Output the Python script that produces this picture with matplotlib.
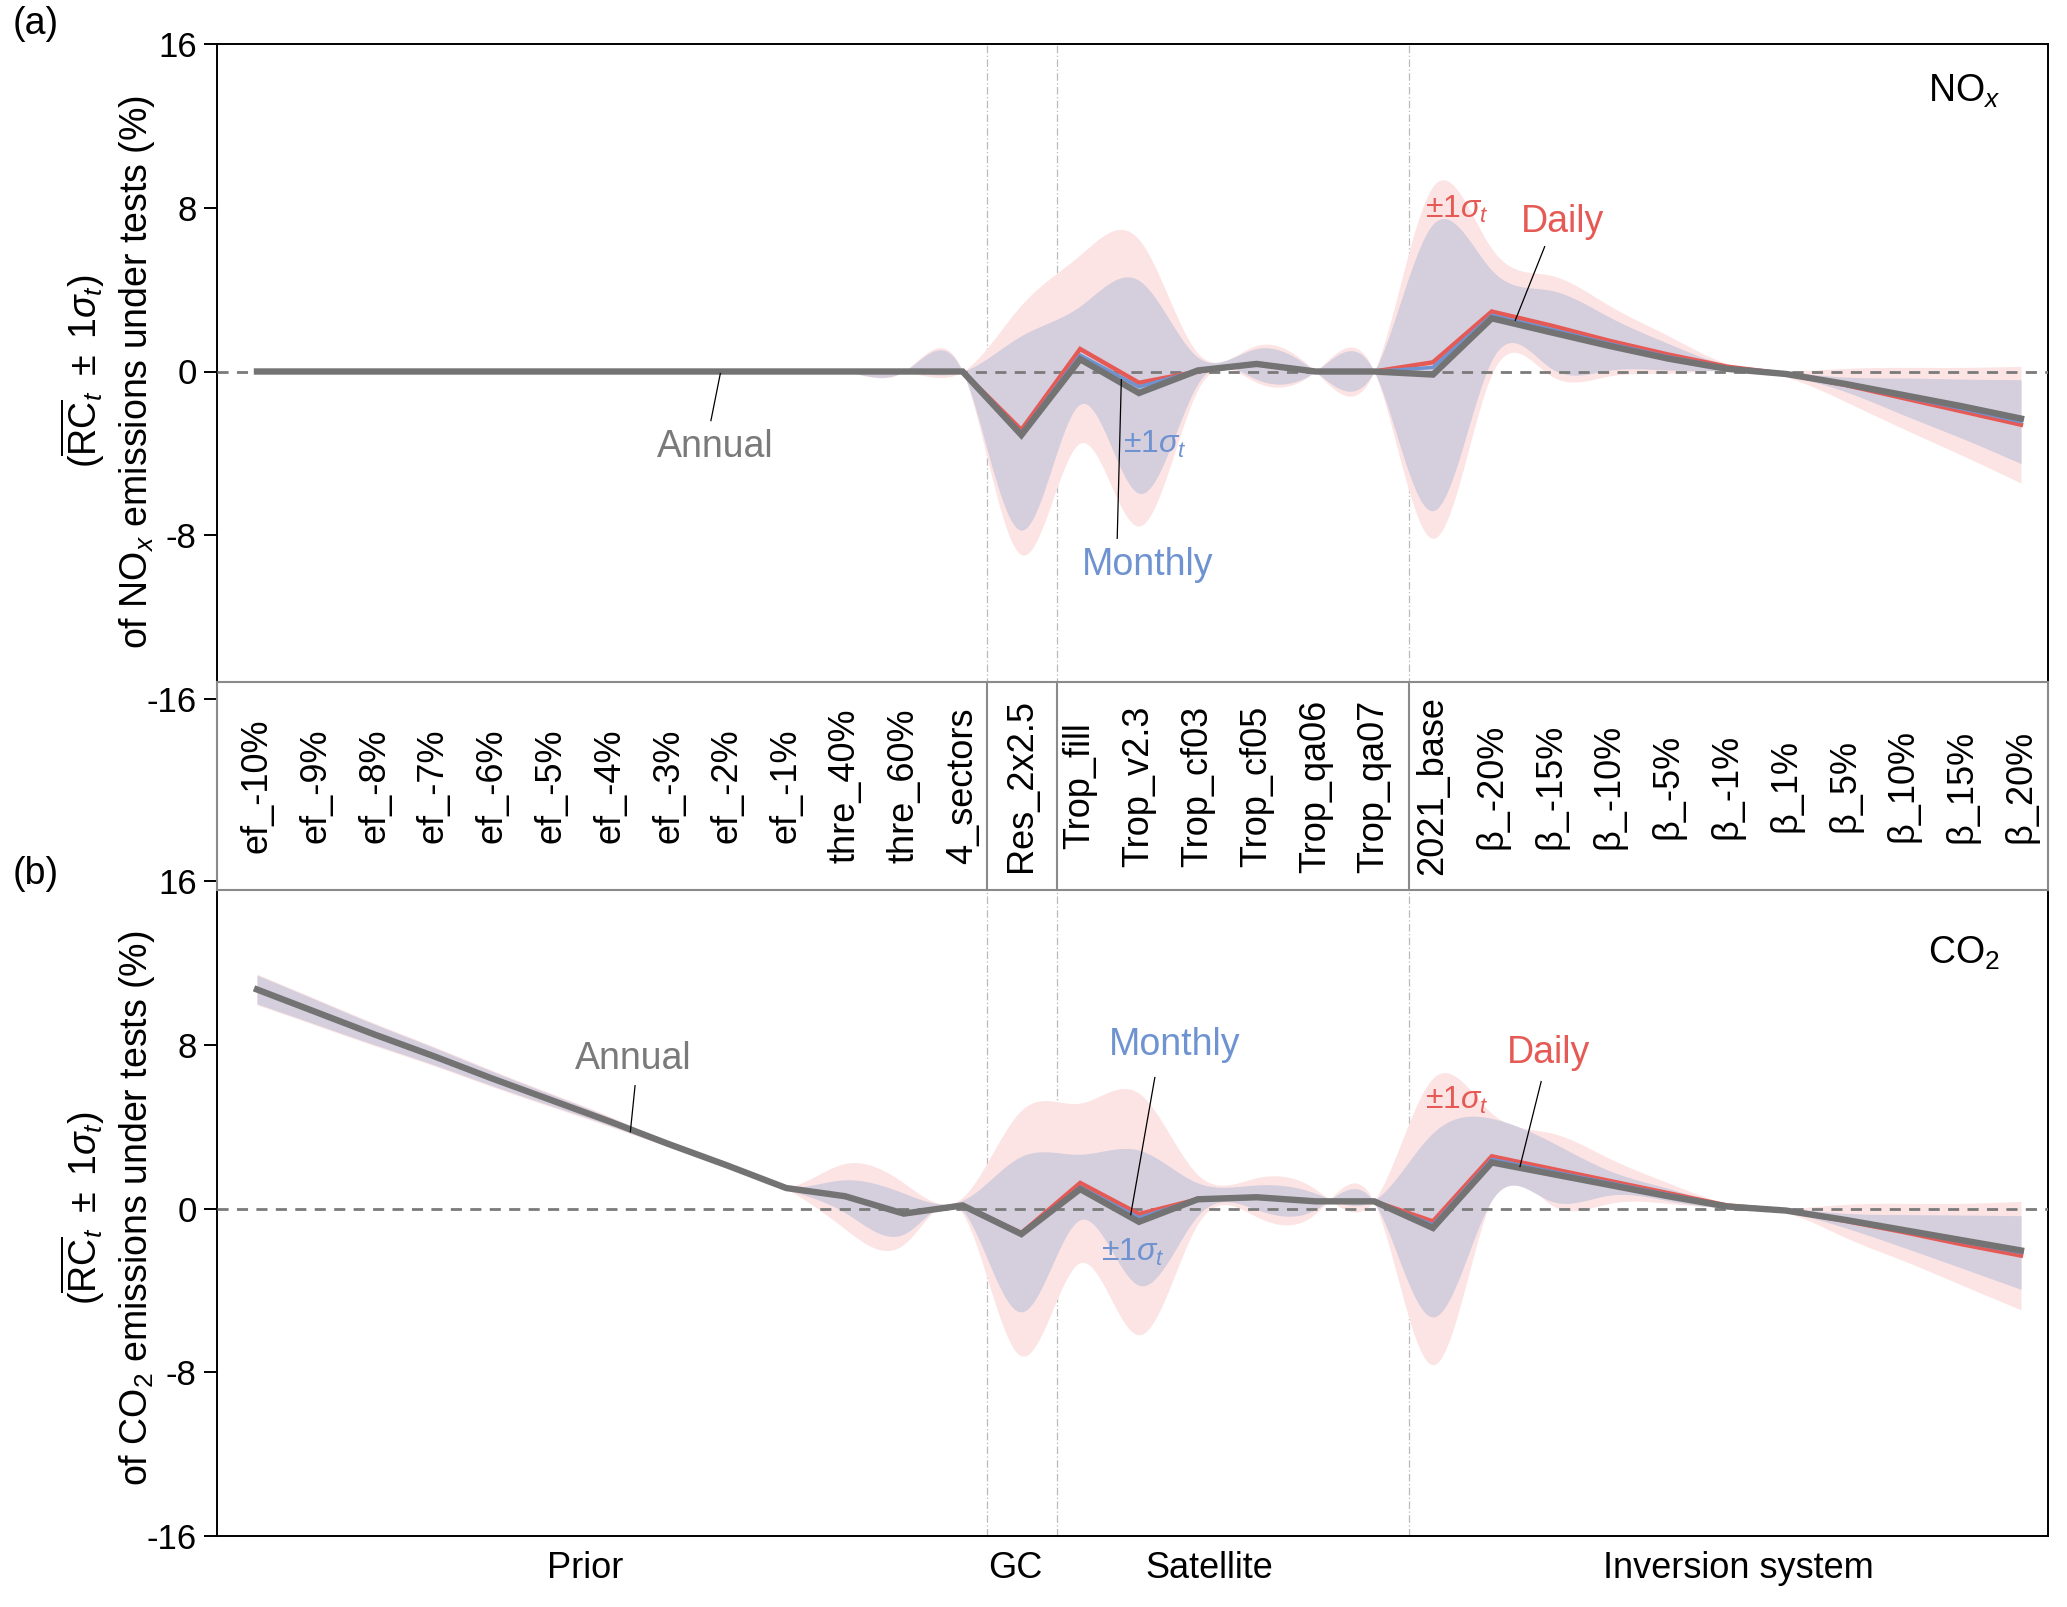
import numpy as np
import matplotlib
matplotlib.use('Agg')
import matplotlib.pyplot as plt

plt.rcParams['font.family'] = ['Liberation Sans', 'DejaVu Sans']
plt.rcParams['mathtext.fontset'] = 'custom'
plt.rcParams['mathtext.rm'] = 'Liberation Sans'
plt.rcParams['mathtext.it'] = 'Liberation Sans:italic'
plt.rcParams['mathtext.bf'] = 'Liberation Sans:bold'
plt.rcParams['mathtext.sf'] = 'Liberation Sans'
plt.rcParams['axes.unicode_minus'] = False

# ---------------- data ----------------
categories = ['ef_-10%', 'ef_-9%', 'ef_-8%', 'ef_-7%', 'ef_-6%', 'ef_-5%', 'ef_-4%',
              'ef_-3%', 'ef_-2%', 'ef_-1%', 'thre_40%', 'thre_60%', '4_sectors',
              'Res_2x2.5', 'Trop_fill', 'Trop_v2.3', 'Trop_cf03', 'Trop_cf05',
              'Trop_qa06', 'Trop_qa07', '2021_base', 'β_-20%', 'β_-15%', 'β_-10%',
              'β_-5%', 'β_-1%', 'β_1%', 'β_5%', 'β_10%', 'β_15%', 'β_20%']
group_names = ['Prior', 'GC', 'Satellite', 'Inversion system']

nox_annual = [0]*13 + [-3.1, 0.6, -1.05, 0.05, 0.37, 0.0, 0.0, -0.15, 2.6, 1.92, 1.25,
                       0.63, 0.13, -0.12, -0.6, -1.15, -1.7, -2.3]
nox_monthly = [0]*13 + [-3.0, 0.8, -0.75, 0.05, 0.37, 0.0, 0.0, 0.2, 2.75, 2.07, 1.36,
                        0.72, 0.18, -0.12, -0.62, -1.22, -1.82, -2.45]
nox_daily = [0]*13 + [-2.85, 1.1, -0.55, 0.0, 0.37, 0.0, 0.0, 0.45, 2.93, 2.25, 1.5,
                      0.83, 0.24, -0.12, -0.65, -1.3, -1.95, -2.6]
nox_sigma_monthly = [0]*13 + [4.75, 2.4, 5.2, 0.65, 0.75, 0.0, 0.0, 7.0, 2.2, 1.9, 1.3,
                              0.65, 0.15, 0.1, 0.35, 0.9, 1.45, 2.05]
nox_sigma_daily = [0]*13 + [6.1, 4.6, 7.0, 0.9, 0.9, 0.0, 0.0, 8.6, 3.07, 2.45, 1.72,
                            0.92, 0.15, 0.15, 0.8, 1.5, 2.15, 2.85]

co2_annual = [10.7, 9.6, 8.5, 7.45, 6.35, 5.3, 4.25, 3.15, 2.1, 1.0, 0.6, -0.25, 0.15,
              -1.25, 0.95, -0.65, 0.45, 0.55, 0.35, 0.35, -0.95, 2.25, 1.7, 1.15, 0.6,
              0.1, -0.1, -0.55, -1.05, -1.55, -2.05]
co2_monthly = [10.7, 9.6, 8.5, 7.45, 6.35, 5.3, 4.25, 3.15, 2.1, 1.0, 0.6, -0.25, 0.15,
               -1.25, 1.05, -0.45, 0.45, 0.55, 0.35, 0.35, -0.8, 2.4, 1.82, 1.25, 0.68,
               0.12, -0.1, -0.58, -1.1, -1.62, -2.15]
co2_daily = [10.7, 9.6, 8.5, 7.45, 6.35, 5.3, 4.25, 3.15, 2.1, 1.0, 0.6, -0.25, 0.15,
             -1.2, 1.25, -0.27, 0.45, 0.55, 0.35, 0.35, -0.63, 2.55, 1.95, 1.35, 0.75,
             0.15, -0.1, -0.6, -1.15, -1.75, -2.3]
co2_sigma_monthly = [0.7, 0.6, 0.5, 0.42, 0.35, 0.28, 0.2, 0.12, 0.06, 0.05, 0.8, 1.0, 0.25,
                     3.8, 1.6, 3.3, 0.8, 0.6, 0.4, 0.05, 4.5, 2.0, 1.45, 0.6, 0.3, 0.1,
                     0.1, 0.35, 0.8, 1.3, 1.8]
co2_sigma_daily = [0.75, 0.65, 0.55, 0.47, 0.4, 0.33, 0.25, 0.15, 0.08, 0.05, 1.6, 1.5, 0.4,
                   6.0, 3.9, 5.9, 1.2, 0.95, 0.6, 0.05, 7.0, 2.1, 1.75, 1.1, 0.5, 0.1,
                   0.1, 0.8, 1.4, 2.0, 2.65]

# ---------------- style ----------------
C_RED = '#E65A55'
C_BLUE = '#6F93D0'
C_GRAY = '#737373'
C_PINK = '#FCE4E4'
C_LAV = '#D5CEDD'


def natural_spline(x, y, xs):
    x = np.asarray(x, float)
    y = np.asarray(y, float)
    n = len(x)
    h = np.diff(x)
    A = np.zeros((n, n))
    b = np.zeros(n)
    A[0, 0] = 1
    A[-1, -1] = 1
    for i in range(1, n - 1):
        A[i, i - 1] = h[i - 1]
        A[i, i] = 2 * (h[i - 1] + h[i])
        A[i, i + 1] = h[i]
        b[i] = 3 * ((y[i + 1] - y[i]) / h[i] - (y[i] - y[i - 1]) / h[i - 1])
    c = np.linalg.solve(A, b)
    bb = (y[1:] - y[:-1]) / h - h * (2 * c[:-1] + c[1:]) / 3
    d = (c[1:] - c[:-1]) / (3 * h)
    idx = np.clip(np.searchsorted(x, xs) - 1, 0, n - 2)
    dx = xs - x[idx]
    return y[idx] + bb[idx] * dx + c[idx] * dx ** 2 + d[idx] * dx ** 3


W, H = 2067, 1607
fig = plt.figure(figsize=(W / 100, H / 100), dpi=100)

x = np.arange(len(categories))
xs = np.linspace(0, len(categories) - 1, 1500)
XL = (-0.68, 30.46)
seps = [12.42, 13.6, 19.6]

left = 217 / W
width = (2048 - 217) / W
ax_a = fig.add_axes([left, 1 - 699 / H, width, 655 / H])
ax_b = fig.add_axes([left, 1 - 1536 / H, width, 655 / H])


def draw_panel(ax, annual, monthly, daily, sm, sd):
    annual = np.array(annual, float)
    monthly = np.array(monthly, float)
    daily = np.array(daily, float)
    sm = np.array(sm, float)
    sd = np.array(sd, float)
    ax.fill_between(xs, natural_spline(x, daily - sd, xs), natural_spline(x, daily + sd, xs),
                    color=C_PINK, lw=0, zorder=1)
    ax.fill_between(xs, natural_spline(x, monthly - sm, xs), natural_spline(x, monthly + sm, xs),
                    color=C_LAV, lw=0, zorder=2)
    ax.axhline(0, color='#7A7A7A', lw=2, ls=(0, (4, 3)), zorder=3)
    for s in seps:
        ax.axvline(s, color='#BBBBBB', lw=0.9, ls=(0, (6, 2, 1, 2)), zorder=0.5)
    ax.plot(x, daily, color=C_RED, lw=3.2, zorder=4, solid_joinstyle='miter')
    ax.plot(x, monthly, color=C_BLUE, lw=2.5, zorder=5, solid_joinstyle='miter')
    ax.plot(x, annual, color=C_GRAY, lw=4.6, zorder=6, solid_joinstyle='miter')
    ax.set_xlim(*XL)
    ax.set_ylim(-16, 16)
    ax.set_yticks([-16, -8, 0, 8, 16])
    ax.set_yticklabels(['-16', '-8', '0', '8', '16'])
    ax.set_xticks([])
    ax.tick_params(axis='y', labelsize=25, length=9.5, width=1.4, direction='out', pad=5)
    for sp in ax.spines.values():
        sp.set_linewidth(1.4)
        sp.set_color('black')


draw_panel(ax_a, nox_annual, nox_monthly, nox_daily, nox_sigma_monthly, nox_sigma_daily)
draw_panel(ax_b, co2_annual, co2_monthly, co2_daily, co2_sigma_monthly, co2_sigma_daily)

ax_a.set_ylabel('$(\\overline{\\mathrm{RC}}_t\\ \\pm\\ 1\\sigma_t)$\nof NO$_x$ emissions under tests (%)',
                fontsize=27, linespacing=1.35)
ax_b.set_ylabel('$(\\overline{\\mathrm{RC}}_t\\ \\pm\\ 1\\sigma_t)$\nof CO$_2$ emissions under tests (%)',
                fontsize=27, linespacing=1.35)
for ax in (ax_a, ax_b):
    ax.yaxis.set_label_coords(-0.0325, 0.5)

# species labels
ax_a.text(0.974, 0.927, 'NO$_x$', transform=ax_a.transAxes, ha='right', va='center', fontsize=27)
ax_b.text(0.974, 0.89, 'CO$_2$', transform=ax_b.transAxes, ha='right', va='center', fontsize=27)


def leader(ax, p0, p1):
    ax.plot([p0[0], p1[0]], [p0[1], p1[1]], color='black', lw=0.9, zorder=7)


# panel a annotations
ax_a.text(7.79, -3.7, 'Annual', color='#7A7A7A', fontsize=27, ha='center', va='center', zorder=8)
leader(ax_a, (7.88, -0.1), (7.72, -2.4))
ax_a.text(22.2, 7.3, 'Daily', color=C_RED, fontsize=27, ha='center', va='center', zorder=8)
leader(ax_a, (21.4, 2.5), (21.9, 6.1))
ax_a.text(20.4, 7.9, '$\\pm1\\sigma_t$', color=C_RED, fontsize=23, ha='center', va='center', zorder=8)
ax_a.text(15.14, -9.45, 'Monthly', color=C_BLUE, fontsize=27, ha='center', va='center', zorder=8)
leader(ax_a, (14.7, -0.4), (14.63, -8.15))
ax_a.text(15.27, -3.55, '$\\pm1\\sigma_t$', color=C_BLUE, fontsize=23, ha='center', va='center', zorder=8)

# panel b annotations
ax_b.text(6.4, 7.3, 'Annual', color='#7A7A7A', fontsize=27, ha='center', va='center', zorder=8)
leader(ax_b, (6.43, 6.0), (6.35, 3.75))
ax_b.text(15.6, 8.0, 'Monthly', color=C_BLUE, fontsize=27, ha='center', va='center', zorder=8)
leader(ax_b, (15.27, 6.4), (14.86, -0.3))
ax_b.text(21.96, 7.6, 'Daily', color=C_RED, fontsize=27, ha='center', va='center', zorder=8)
leader(ax_b, (21.84, 6.2), (21.48, 2.05))
ax_b.text(20.4, 5.3, '$\\pm1\\sigma_t$', color=C_RED, fontsize=23, ha='center', va='center', zorder=8)
ax_b.text(14.9, -2.15, '$\\pm1\\sigma_t$', color=C_BLUE, fontsize=23, ha='center', va='center', zorder=8)

# group labels under panel b
group_pos = [5.58, 12.9, 16.2, 25.2]
for gx, gname in zip(group_pos, group_names):
    ax_b.text(gx, -0.049, gname, transform=ax_b.get_xaxis_transform(), ha='center', va='center',
              fontsize=26)

# category label box
ax_box = fig.add_axes([left, 1 - 890 / H, width, 208 / H])
ax_box.set_facecolor('white')
ax_box.set_xlim(*XL)
ax_box.set_ylim(0, 1)
ax_box.set_xticks([])
ax_box.set_yticks([])
for sp in ax_box.spines.values():
    sp.set_linewidth(1.5)
    sp.set_color('#8A8A8A')
for s in seps:
    ax_box.axvline(s, color='#8A8A8A', lw=1.5)
for i, c in enumerate(categories):
    ax_box.text(i, 0.5, c, rotation=90, ha='center', va='center', fontsize=26)

fig.text(36 / W, 1 - 24 / H, '(a)', ha='center', va='center', fontsize=27)
fig.text(36 / W, 1 - 874 / H, '(b)', ha='center', va='center', fontsize=27)

fig.savefig('out.png', dpi=100)
